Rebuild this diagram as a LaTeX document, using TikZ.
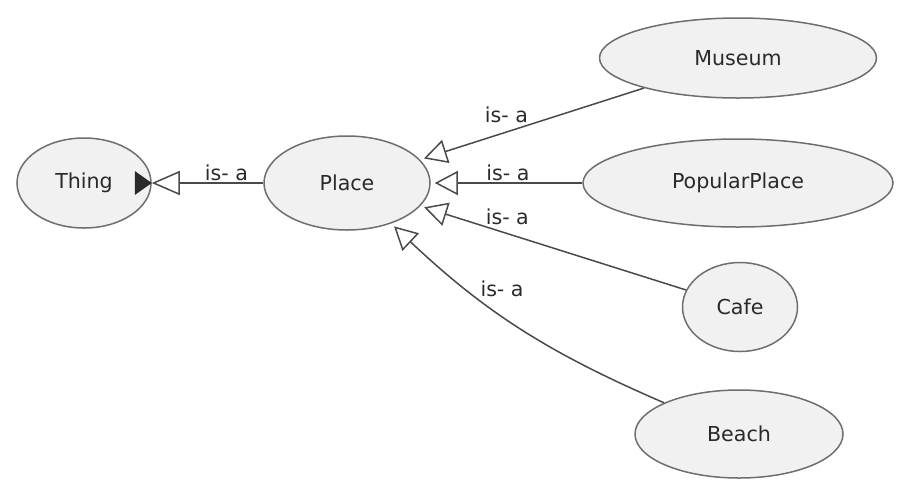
\documentclass[tikz,border=0pt]{standalone}
\usepackage{fontspec}
\setmainfont{DejaVu Sans}
\usepackage{xcolor}
\usepackage{tikz}
\usetikzlibrary{calc,arrows.meta,shapes.geometric}
\definecolor{ink}{HTML}{2A2A2A}
\definecolor{rim}{HTML}{6E6E6E}
\definecolor{shade}{HTML}{F1F1F1}
\definecolor{wire}{HTML}{4A4A4A}
\newcommand\classfont{\fontsize{10.3}{12}\selectfont}
\tikzset{
  cls/.style={ellipse, draw=rim, line width=0.75pt, fill=shade, text=ink, font=\classfont, inner sep=0pt},
  isa/.style={draw=wire, line width=0.75pt, shorten >=2pt, -{Triangle[open, length=11.5pt, width=12pt, line width=0.75pt]}},
  lbl/.style={text=ink, font=\classfont, inner sep=0.5pt}
}

\begin{document}
\begin{tikzpicture}[x=0.5pt, y=0.5pt]
  \useasboundingbox (0,0) rectangle (903,-483);

  \node[cls, minimum width=67pt, minimum height=45pt] (thing) at (84,-183) {Thing};
  \node[cls, minimum width=83pt, minimum height=47pt] (place) at (347,-183) {Place};
  \node[cls, minimum width=138.5pt, minimum height=40pt] (museum) at (738,-58) {Museum};
  \node[cls, minimum width=155pt, minimum height=44pt] (popular) at (738,-183) {PopularPlace};
  \node[cls, minimum width=57.5pt, minimum height=44.5pt] (cafe) at (740,-307) {Cafe};
  \node[cls, minimum width=104pt, minimum height=44pt] (beach) at (739,-434) {Beach};

  \draw[isa, shorten >=0pt, -{Triangle[open, length=14pt, width=12pt, line width=0.75pt]}]
    (place) -- node[lbl, pos=.33, above]{is- a} (thing);
  \fill[ink] ($(thing.east)+(-17,12)$) -- (thing.east) -- ($(thing.east)+(-17,-12)$) -- cycle;

  \draw[isa] (museum) -- node[lbl, pos=.51, above left]{is- a} (place);
  \draw[isa] (popular) -- node[lbl, pos=.49, above]{is- a} (place);
  \draw[isa] (cafe) -- node[lbl, pos=.76, above right]{is- a} (place);
  \draw[isa] (beach) to[bend left=10] node[lbl, pos=.66, above right]{is- a} (place);
\end{tikzpicture}
\end{document}
